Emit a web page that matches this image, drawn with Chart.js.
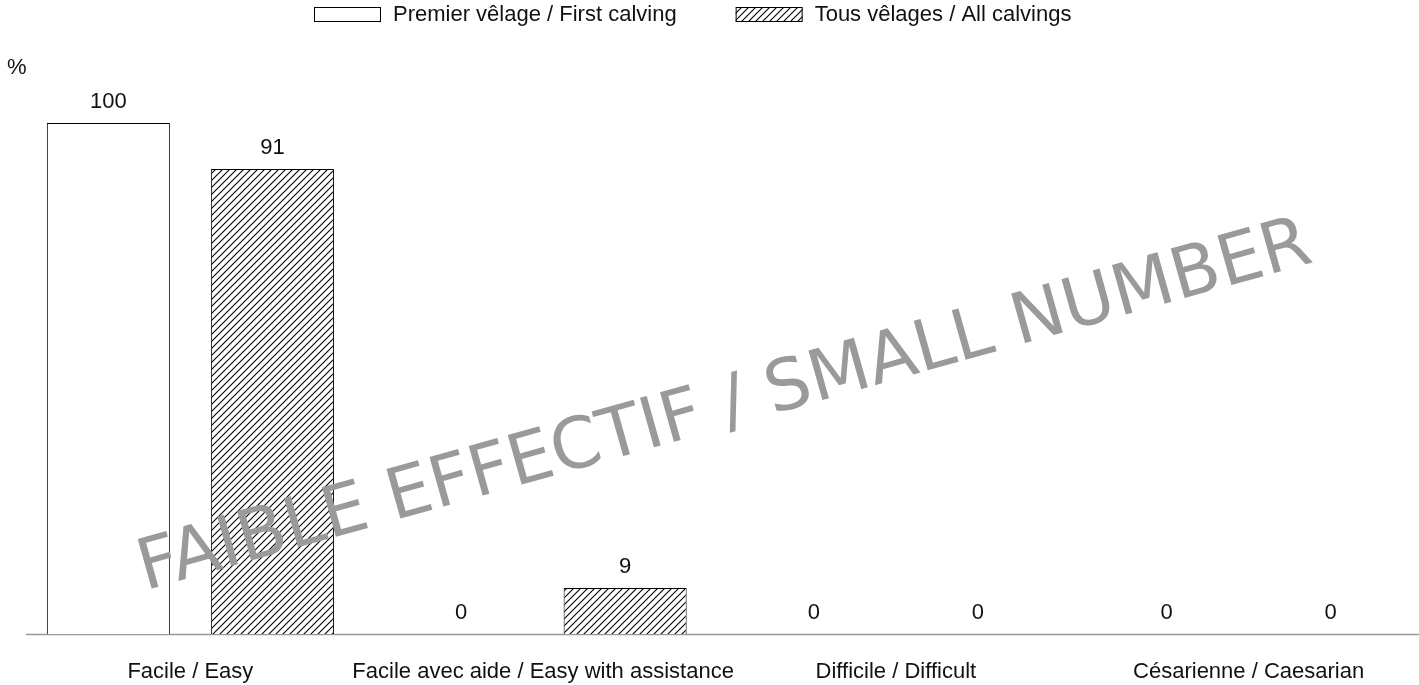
<!DOCTYPE html>
<html>
<head>
<meta charset="utf-8">
<script src="https://cdn.jsdelivr.net/npm/chart.js@4.4.0/dist/chart.umd.min.js"></script>
<style>
  html, body { margin: 0; padding: 0; background: #fff; overflow: hidden; }
  #wrap { width: 1425px; height: 685px; position: relative; }
</style>
</head>
<body>
<div id="wrap"><canvas id="c"></canvas></div>
<script>
const categories = [
  'Facile / Easy',
  'Facile avec aide / Easy with assistance',
  'Difficile / Difficult',
  'Césarienne / Caesarian'
];
const seriesNames = ['Premier vêlage / First calving', 'Tous vêlages / All calvings'];
const firstCalving = [100, 0, 0, 0];
const allCalvings = [91, 9, 0, 0];
const watermarkText = 'FAIBLE EFFECTIF / SMALL NUMBER';
const unitLabel = '%';

const FONT = "'Liberation Sans', Arial, sans-serif";
const FS = 22;

function makeHatch() {
  const s = 7;
  const c = document.createElement('canvas');
  c.width = s; c.height = s;
  const x = c.getContext('2d');
  x.fillStyle = '#fff';
  x.fillRect(0, 0, s, s);
  x.strokeStyle = '#000';
  x.lineWidth = 1.1;
  x.beginPath();
  x.moveTo(-1, s + 1); x.lineTo(s + 1, -1);
  x.moveTo(-1, 1); x.lineTo(1, -1);
  x.moveTo(s - 1, s + 1); x.lineTo(s + 1, s - 1);
  x.stroke();
  return x.createPattern(c, 'repeat');
}
const hatch = makeHatch();

const labelPlugin = {
  id: 'valueLabels',
  afterDatasetsDraw(chart) {
    const ctx = chart.ctx;
    ctx.save();
    ctx.font = FS + 'px ' + FONT;
    ctx.fillStyle = '#111';
    ctx.textAlign = 'center';
    ctx.textBaseline = 'middle';
    chart.data.datasets.forEach((ds, i) => {
      chart.getDatasetMeta(i).data.forEach((bar, j) => {
        ctx.fillText(String(ds.data[j]), bar.x, bar.y - 21);
      });
    });
    ctx.restore();
  }
};

const extrasPlugin = {
  id: 'extras',
  beforeDatasetsDraw(chart) {
    const ctx = chart.ctx;
    const y = Math.round(chart.scales.y.getPixelForValue(0)) + 0.5;
    ctx.save();
    // baseline axis
    ctx.strokeStyle = '#999';
    ctx.lineWidth = 1.5;
    ctx.beginPath();
    ctx.moveTo(chart.chartArea.left + 12, y);
    ctx.lineTo(chart.width, y);
    ctx.stroke();
    // unit label
    ctx.font = FS + 'px ' + FONT;
    ctx.fillStyle = '#111';
    ctx.textAlign = 'left';
    ctx.textBaseline = 'middle';
    ctx.fillText(unitLabel, 7, 68);
    // legend
    const boxW = 67, boxH = 15, gap = 12, itemGap = 59;
    let x = 314;
    const ly = 14;
    chart.data.datasets.forEach((ds) => {
      ctx.fillStyle = ds.backgroundColor;
      ctx.fillRect(x, ly - 7, boxW, boxH);
      ctx.strokeStyle = '#000';
      ctx.lineWidth = 1;
      ctx.strokeRect(x + 0.5, ly - 7 + 0.5, boxW - 1, boxH - 1);
      ctx.fillStyle = '#111';
      ctx.fillText(ds.label, x + boxW + gap, ly + 1);
      x += boxW + gap + ctx.measureText(ds.label).width + itemGap;
    });
    ctx.restore();
  },
  afterDraw(chart) {
    const ctx = chart.ctx;
    ctx.save();
    ctx.font = "100px 'DejaVu Sans', sans-serif";
    const w = ctx.measureText(watermarkText).width;
    const size = 100 * 1216 / w;
    ctx.font = size.toFixed(1) + "px 'DejaVu Sans', sans-serif";
    ctx.fillStyle = '#9a9a9a';
    ctx.textAlign = 'center';
    ctx.textBaseline = 'alphabetic';
    ctx.translate(730, 426);
    ctx.rotate(-15.7 * Math.PI / 180);
    ctx.fillText(watermarkText, 0, 0);
    ctx.restore();
  }
};

new Chart(document.getElementById('c'), {
  type: 'bar',
  data: {
    labels: categories,
    datasets: [
      {
        label: seriesNames[0],
        data: firstCalving,
        backgroundColor: '#fff',
        borderColor: '#000',
        borderWidth: 1,
        borderSkipped: 'bottom'
      },
      {
        label: seriesNames[1],
        data: allCalvings,
        backgroundColor: hatch,
        borderColor: '#000',
        borderWidth: 1,
        borderSkipped: 'bottom'
      }
    ]
  },
  options: {
    responsive: true,
    maintainAspectRatio: false,
    animation: false,
    categoryPercentage: 0.93,
    barPercentage: 0.75,
    layout: { padding: { left: 14, right: 0, top: 72, bottom: 0 } },
    plugins: {
      legend: { display: false },
      tooltip: { enabled: false }
    },
    scales: {
      x: {
        grid: { display: false },
        border: { display: false },
        ticks: { color: '#111', font: { family: FONT, size: FS }, padding: 17, maxRotation: 0, autoSkip: false },
        afterFit(scale) { scale.height = 51; }
      },
      y: {
        display: false,
        min: 0,
        max: 110
      }
    }
  },
  plugins: [labelPlugin, extrasPlugin]
});
</script>
</body>
</html>
